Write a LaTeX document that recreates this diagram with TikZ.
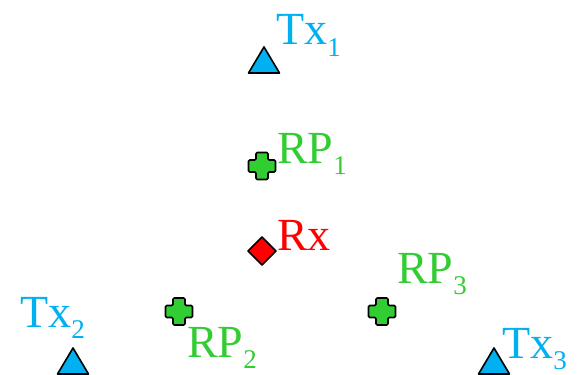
\documentclass[tikz,border=0pt]{standalone}
\usepackage{fontspec}
\setmainfont{Liberation Serif}
\definecolor{txblue}{RGB}{0,176,240}
\definecolor{rpgreen}{RGB}{50,205,50}
\definecolor{rxred}{RGB}{255,0,0}
\newcommand\lbsub[1]{\raisebox{-11.5pt}{\fontsize{27}{27}\selectfont #1}}
\tikzset{
  lbl/.style={anchor=base west, inner sep=0pt, font=\fontsize{46}{50}\selectfont},
  txlbl/.style={lbl, text=txblue},
  rplbl/.style={lbl, text=rpgreen},
  rxlbl/.style={lbl, text=rxred},
  mark outline/.style={draw=black, line width=1.6pt, line join=round},
  txmark/.pic={\path[mark outline, fill=txblue] (-15.5,13) -- (15.5,13) -- (0,-13) -- cycle;},
  rpmark/.pic={\path[mark outline, fill=rpgreen, rounded corners=1.2pt]
    (-6,-13.5) -- (6,-13.5) -- (6,-6) -- (13.5,-6) -- (13.5,6) -- (6,6) -- (6,13.5)
    -- (-6,13.5) -- (-6,6) -- (-13.5,6) -- (-13.5,-6) -- (-6,-6) -- cycle;},
  rxmark/.pic={\path[mark outline, fill=rxred] (0,-14) -- (14,0) -- (0,14) -- (-14,0) -- cycle;}
}
\begin{document}
\begin{tikzpicture}[x=1pt, y=-1pt]
\useasboundingbox (0,0) rectangle (577,374);
% transmitters
\pic at (264,60) {txmark};
\pic at (73,361) {txmark};
\pic at (494,361) {txmark};
% reference points
\pic at (262,166) {rpmark};
\pic at (179,311.5) {rpmark};
\pic at (382,311.5) {rpmark};
% receiver
\pic at (262,251) {rxmark};
% labels
\node[txlbl] (tx1) at (276,45) {Tx\lbsub{1}};
\node[txlbl] (tx2) at (20,327) {Tx\lbsub{2}};
\node[txlbl] (tx3) at (502,358) {Tx\lbsub{3}};
\node[rplbl] (rp1) at (277,163) {RP\lbsub{1}};
\node[rplbl] (rp2) at (187,357) {RP\lbsub{2}};
\node[rplbl] (rp3) at (397,283) {RP\lbsub{3}};
\node[rxlbl] (rx) at (277,250) {Rx};
\end{tikzpicture}
\end{document}
